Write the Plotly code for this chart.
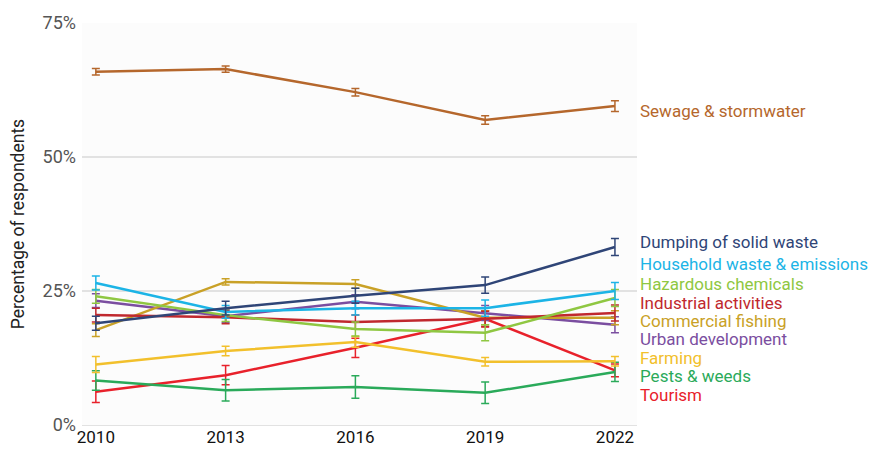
import plotly.graph_objects as go

years = [2010, 2013, 2016, 2019, 2022]

series_names = [
    "Sewage & stormwater",
    "Dumping of solid waste",
    "Household waste & emissions",
    "Hazardous chemicals",
    "Industrial activities",
    "Commercial fishing",
    "Urban development",
    "Farming",
    "Pests & weeds",
    "Tourism",
]

sewage = [65.9, 66.4, 62.1, 56.9, 59.5]
dumping = [19.0, 21.8, 24.1, 26.1, 33.2]
household = [26.5, 21.1, 21.8, 21.8, 25.0]
hazardous = [24.0, 20.5, 17.9, 17.2, 23.7]
industrial = [20.5, 20.1, 19.2, 19.8, 20.9]
commercial = [17.7, 26.7, 26.3, 20.0, 20.0]
urban = [23.2, 20.3, 23.0, 20.9, 18.7]
farming = [11.3, 13.8, 15.5, 11.8, 11.9]
pests = [8.3, 6.5, 7.1, 6.0, 9.9]
tourism = [6.2, 9.3, 14.4, 19.8, 10.2]

err_sewage = [0.6, 0.6, 0.7, 0.8, 1.0]
err_dumping = [1.3, 1.3, 1.4, 1.5, 1.6]
err_household = [1.3, 1.2, 1.3, 1.5, 1.6]
err_hazardous = [1.3, 1.2, 1.3, 1.5, 1.6]
err_industrial = [1.3, 1.2, 1.3, 1.4, 1.5]
err_commercial = [1.2, 0.6, 0.8, 1.3, 1.3]
err_urban = [1.3, 1.2, 1.3, 1.4, 1.5]
err_farming = [1.5, 0.9, 1.0, 0.8, 0.9]
err_pests = [1.8, 2.0, 2.1, 2.0, 1.8]
err_tourism = [2.0, 1.8, 1.8, 1.5, 1.2]

values = [sewage, dumping, household, hazardous, industrial,
          commercial, urban, farming, pests, tourism]
errors = [err_sewage, err_dumping, err_household, err_hazardous, err_industrial,
          err_commercial, err_urban, err_farming, err_pests, err_tourism]

colors = ["#b5672c", "#2f4577", "#1cb4e6", "#8fc742", "#c0282e",
          "#c9a127", "#7b4ea0", "#f2c02c", "#2aaa5a", "#e8212b"]

# label vertical positions (layout, in axis units)
label_y = [58.6, 34.1, 30.0, 26.3, 22.8, 19.4, 16.0, 12.5, 9.1, 5.6]

FONT = "Roboto, sans-serif"

fig = go.Figure()
order = list(range(len(series_names)))[::-1]
for i in order:
    fig.add_trace(go.Scatter(
        x=years, y=values[i], mode="lines",
        name=series_names[i],
        line=dict(color=colors[i], width=2.5),
        error_y=dict(type="data", array=errors[i], visible=True,
                     color=colors[i], thickness=1.5, width=4),
        showlegend=False, hoverinfo="x+y+name",
    ))

for i, name in enumerate(series_names):
    fig.add_annotation(
        xref="paper", yref="y", x=1.002, y=label_y[i],
        text=name, showarrow=False, xanchor="left", yanchor="middle",
        font=dict(family=FONT, size=17, color=colors[i]),
    )

fig.update_layout(
    width=870, height=444,
    margin=dict(l=74, r=241, t=15, b=27, autoexpand=False),
    paper_bgcolor="white",
    plot_bgcolor="#fcfcfc",
    font=dict(family=FONT, color="#333"),
    xaxis=dict(
        range=[2009.68, 2022.51], automargin=False,
        tickvals=years, ticktext=[str(y) for y in years],
        tickfont=dict(family=FONT, size=17, color="#111"),
        showgrid=False, zeroline=False, showline=False, ticks="",
    ),
    yaxis=dict(
        range=[0, 75], automargin=False,
        tickvals=[0, 25, 50, 75], ticktext=["0%", "25%", "50%", "75%"],
        tickfont=dict(family=FONT, size=18, color="#555"),
        ticklabelstandoff=5,
        showgrid=True, gridcolor="#e2e2e2", gridwidth=2,
        zeroline=True, zerolinecolor="#e2e2e2", zerolinewidth=1,
        showline=False, ticks="",
        title=dict(text="Percentage of respondents",
                   font=dict(family=FONT, size=17.5, color="#222"), standoff=18),
    ),
)

fig.write_html("out.html")
